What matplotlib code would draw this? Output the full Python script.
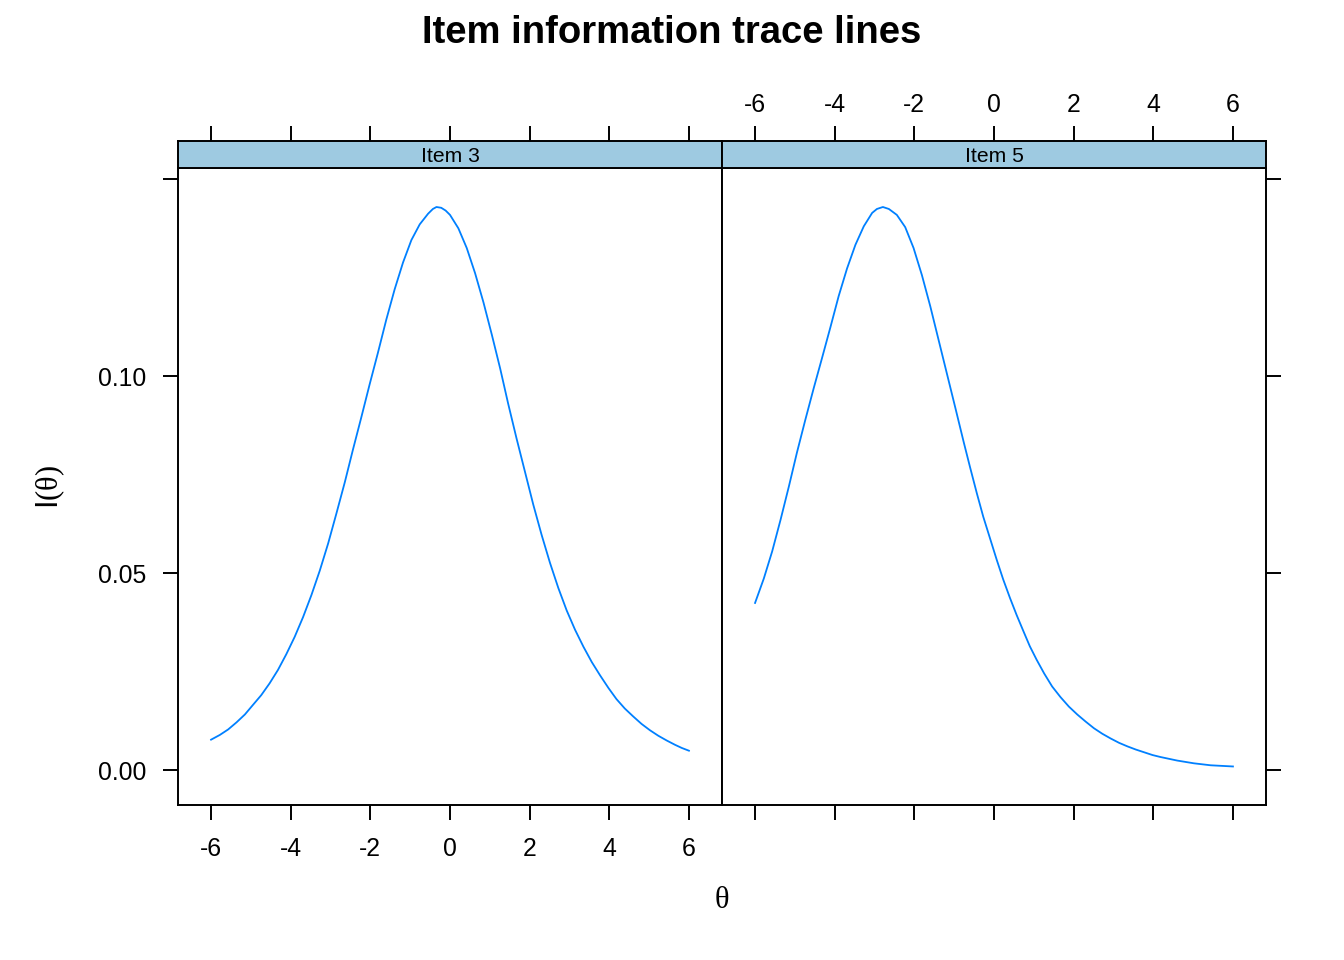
import matplotlib
matplotlib.use("Agg")
import matplotlib.pyplot as plt

plt.rcParams['font.family'] = ['Liberation Sans', 'DejaVu Sans']
plt.rcParams['axes.unicode_minus'] = False
plt.rcParams['mathtext.fontset'] = 'custom'
plt.rcParams['mathtext.rm'] = 'Liberation Serif'

# === Data ===
theta_3 = [-6.00, -5.78, -5.57, -5.36, -5.15, -4.95, -4.74, -4.53, -4.32, -4.11,
           -3.90, -3.69, -3.48, -3.27, -3.06, -2.85, -2.64, -2.44, -2.23, -2.02,
           -1.81, -1.60, -1.39, -1.18, -0.97, -0.76, -0.55, -0.43, -0.34, -0.22,
           -0.11, 0.00, 0.21, 0.42, 0.63, 0.84, 1.05, 1.26, 1.46, 1.67,
           1.88, 2.09, 2.30, 2.51, 2.72, 2.93, 3.14, 3.35, 3.56, 3.77,
           3.98, 4.18, 4.39, 4.60, 4.81, 5.02, 5.23, 5.44, 5.65, 5.82, 6.00]
info_3 = [0.0077, 0.0089, 0.0103, 0.0121, 0.0141, 0.0165, 0.0190, 0.0220, 0.0254, 0.0294,
          0.0338, 0.0388, 0.0444, 0.0506, 0.0575, 0.0652, 0.0731, 0.0812, 0.0894, 0.0978,
          0.1059, 0.1143, 0.1220, 0.1288, 0.1345, 0.1385, 0.1412, 0.1424, 0.1429, 0.1427,
          0.1420, 0.1409, 0.1375, 0.1325, 0.1261, 0.1187, 0.1105, 0.1019, 0.0930, 0.0842,
          0.0758, 0.0674, 0.0597, 0.0526, 0.0462, 0.0405, 0.0356, 0.0313, 0.0274, 0.0240,
          0.0208, 0.0180, 0.0156, 0.0136, 0.0117, 0.0101, 0.0087, 0.0075, 0.0064, 0.0056, 0.0049]

theta_5 = [-6.00, -5.78, -5.57, -5.36, -5.15, -4.95, -4.74, -4.53, -4.32, -4.11,
           -3.90, -3.69, -3.48, -3.27, -3.06, -2.94, -2.79, -2.64, -2.44, -2.23,
           -2.02, -1.81, -1.60, -1.39, -1.18, -0.97, -0.76, -0.60, -0.43, -0.27,
           -0.10, 0.07, 0.23, 0.40, 0.57, 0.74, 0.90, 1.07, 1.26, 1.46,
           1.67, 1.88, 2.09, 2.30, 2.51, 2.72, 2.93, 3.14, 3.35, 3.56,
           3.77, 3.98, 4.18, 4.60, 5.02, 5.44, 6.00]
info_5 = [0.0424, 0.0486, 0.0555, 0.0635, 0.0720, 0.0805, 0.0888, 0.0968, 0.1045, 0.1123,
          0.1203, 0.1273, 0.1333, 0.1380, 0.1414, 0.1424, 0.1429, 0.1424, 0.1409, 0.1378,
          0.1325, 0.1256, 0.1177, 0.1091, 0.1005, 0.0919, 0.0832, 0.0768, 0.0702, 0.0643,
          0.0588, 0.0533, 0.0484, 0.0437, 0.0393, 0.0352, 0.0314, 0.0280, 0.0245, 0.0212,
          0.0185, 0.0161, 0.0141, 0.0123, 0.0106, 0.0092, 0.0080, 0.0069, 0.0060, 0.0052,
          0.0045, 0.0038, 0.0033, 0.0024, 0.0017, 0.0012, 0.0009]

items = ["Item 3", "Item 5"]
x_ticks = [-6, -4, -2, 0, 2, 4, 6]
y_ticks = [0.00, 0.05, 0.10, 0.15]
y_labels = ["0.00", "0.05", "0.10", ""]

W, H = 1344, 960
fig = plt.figure(figsize=(W / 100, H / 100), dpi=100)

line_col = "#0080ff"
strip_col = "#9ecae1"
tick_kw = dict(length=11, width=1.4, labelsize=17.8, direction="out", color="black")

panels = [(178, 722, theta_3, info_3), (722, 1266, theta_5, info_5)]
for i, (x0, x1, th, inf) in enumerate(panels):
    ax = fig.add_axes([x0 / W, 1 - 805 / H, (x1 - x0) / W, (805 - 168) / H])
    ax.plot(th, inf, color=line_col, lw=1.3)
    ax.set_xlim(-6.83, 6.83)
    ax.set_ylim(-0.00888, 0.1528)
    for s in ax.spines.values():
        s.set_linewidth(1.4)
    ax.set_xticks(x_ticks)
    ax.set_yticks(y_ticks)
    ax.set_yticklabels(y_labels)
    ax.tick_params(axis="both", pad=12, **tick_kw)
    if i == 0:
        ax.tick_params(axis="y", left=True, right=False, labelleft=True)
        ax.tick_params(axis="x", bottom=True, labelbottom=True)
    else:
        ax.tick_params(axis="y", left=False, right=True, labelleft=False, labelright=False)
        ax.tick_params(axis="x", bottom=True, labelbottom=False)

    # strip on top of the panel
    sax = fig.add_axes([x0 / W, 1 - 168 / H, (x1 - x0) / W, 27 / H])
    sax.set_facecolor(strip_col)
    sax.set_xlim(-6.83, 6.83)
    sax.set_ylim(0, 1)
    for s in sax.spines.values():
        s.set_linewidth(1.4)
    sax.set_yticks([])
    sax.set_xticks(x_ticks)
    sax.xaxis.tick_top()
    sax.tick_params(axis="x", top=True, bottom=False, labeltop=(i == 1),
                    labelbottom=False, pad=6, **tick_kw)
    sax.text(0, 0.42, items[i], ha="center", va="center", fontsize=15.2)

fig.text(671.5 / W, 1 - 33 / H, "Item information trace lines",
         ha="center", va="center", fontsize=27.5, fontweight="bold")
fig.text(722 / W, 1 - 900 / H, "θ", ha="center", va="center", fontsize=22,
         family=["Liberation Serif"])
fig.text(50 / W, 1 - 487 / H, r"I$\mathrm{(θ)}$", ha="center", va="center",
         rotation=90, fontsize=22)

fig.savefig("out.png", dpi=100)
